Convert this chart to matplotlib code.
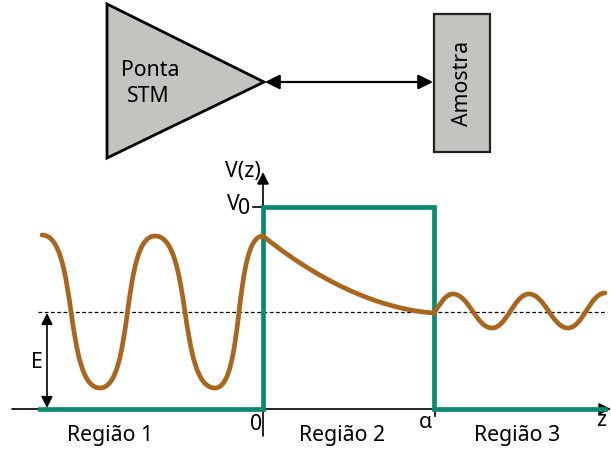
import matplotlib
matplotlib.use("Agg")
import matplotlib.pyplot as plt
from matplotlib.path import Path
from matplotlib.patches import PathPatch, Polygon, Rectangle

plt.rcParams['font.family'] = ['Noto Sans', 'DejaVu Sans']

# diagram geometry, in picture pixels (y grows downwards)
tip_triangle = [(107, 4), (107, 158), (264, 82)]
sample_box   = (434, 14, 56, 138)     # x, y, w, h
axis_y       = 409
axis_x0      = 263

# potential barrier V(z)
barrier_x = [40, 263, 263, 434, 434, 605]
barrier_y = [409, 409, 207, 207, 409, 409]
energy_y  = 312

# wave function anchors (extrema / joins)
wave1_x = [42, 100, 155, 215, 263]
wave1_y = [235, 388, 236, 388, 236]
wave2_pts = [(263, 236), (330, 290), (390, 310), (434, 313)]
wave3_x = [453, 492, 529, 568, 605]
wave3_y = [294, 328, 294, 328, 293]

region_labels = ["Região 1", "Região 2", "Região 3"]
region_x      = [110, 342, 517]

green = "#0b8a70"
brown = "#a9661f"
gray  = "#c4c3bf"
fs = 15.3


def smooth_segments(xs, ys, k):
    verts = [(xs[0], ys[0])]
    for i in range(1, len(xs)):
        dx = xs[i] - xs[i - 1]
        verts += [(xs[i - 1] + k * dx, ys[i - 1]), (xs[i] - k * dx, ys[i]), (xs[i], ys[i])]
    return verts


fig = plt.figure(figsize=(6.11, 4.49), dpi=100)
ax = fig.add_axes([0, 0, 1, 1])
ax.set_xlim(0, 611)
ax.set_ylim(449, 0)
ax.axis("off")

# STM tip and sample
ax.add_patch(Polygon(tip_triangle, closed=True, facecolor=gray, edgecolor="black", lw=2.0))
ax.text(150, 70, "Ponta", ha="center", va="center", fontsize=fs)
ax.text(148, 97, "STM", ha="center", va="center", fontsize=fs)
ax.add_patch(Rectangle(sample_box[:2], sample_box[2], sample_box[3],
                       facecolor=gray, edgecolor="#222222", lw=1.6))
ax.text(sample_box[0] + sample_box[2] / 2, sample_box[1] + sample_box[3] / 2, "Amostra",
        rotation=90, ha="center", va="center", fontsize=fs)
ax.annotate("", xy=(265, 82), xytext=(433, 82),
            arrowprops=dict(arrowstyle="<|-|>", color="black", lw=1.6, mutation_scale=22,
                            shrinkA=0, shrinkB=0))

# axes
ax.annotate("", xy=(611, axis_y), xytext=(12, axis_y),
            arrowprops=dict(arrowstyle="-|>", color="black", lw=1.2, mutation_scale=18,
                            shrinkA=0, shrinkB=0))
ax.annotate("", xy=(axis_x0, 172), xytext=(axis_x0, 436),
            arrowprops=dict(arrowstyle="-|>", color="black", lw=1.2, mutation_scale=18,
                            shrinkA=0, shrinkB=0))
ax.plot([253, axis_x0], [207, 207], color="black", lw=1.2)
ax.plot([435, 435], [axis_y, 416], color="black", lw=1.2)

# energy level
ax.plot([38, 607], [energy_y, energy_y], color="black", lw=0.9, ls=(0, (3, 2)))
ax.annotate("", xy=(47, energy_y + 1), xytext=(47, axis_y - 1),
            arrowprops=dict(arrowstyle="<|-|>", color="black", lw=1.2, mutation_scale=17,
                            shrinkA=0, shrinkB=0))

# barrier
ax.plot(barrier_x, barrier_y, color=green, lw=3.4, solid_joinstyle="miter", zorder=3)

# wave function
verts = smooth_segments(wave1_x, wave1_y, 0.62)
verts += wave2_pts[1:]
verts += [(440, 304.5), (445, 294), (wave3_x[0], wave3_y[0])]
verts += smooth_segments(wave3_x, wave3_y, 0.4)[1:]
codes = [Path.MOVETO] + [Path.CURVE4] * (len(verts) - 1)
ax.add_patch(PathPatch(Path(verts, codes), facecolor="none", edgecolor=brown, lw=3.4,
                       capstyle="round", zorder=4))

# labels
ax.text(243, 171, "V(z)", ha="center", va="center", fontsize=fs)
ax.text(233, 204, "V", ha="center", va="center", fontsize=fs)
ax.text(244.5, 208, "0", ha="center", va="center", fontsize=fs)
ax.text(37, 362, "E", ha="center", va="center", fontsize=fs)
ax.text(256, 424, "0", ha="center", va="center", fontsize=fs)
ax.text(425, 423, "α", ha="center", va="center", fontsize=fs)
ax.text(601, 421, "z", ha="center", va="center", fontsize=fs)
for label, x in zip(region_labels, region_x):
    ax.text(x, 435, label, ha="center", va="center", fontsize=fs)

fig.savefig("out.png", dpi=100)
